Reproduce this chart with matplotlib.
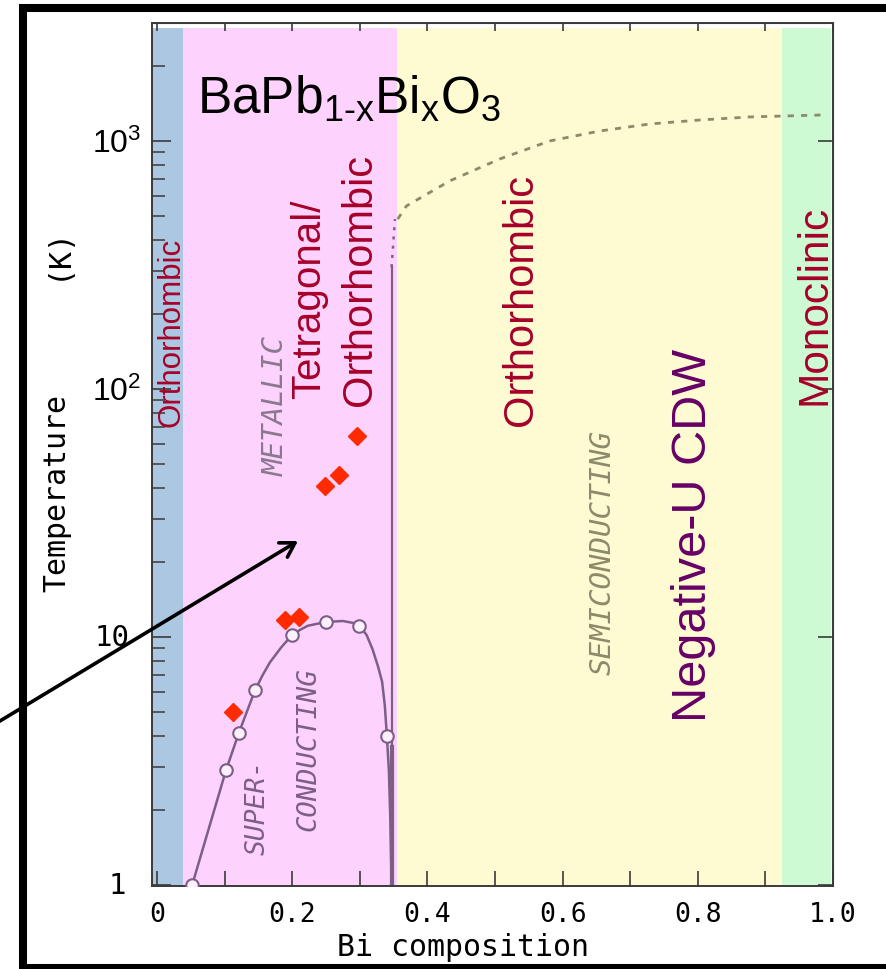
import matplotlib
matplotlib.use('Agg')
import matplotlib.pyplot as plt
import matplotlib.transforms as mtransforms
from matplotlib.patches import FancyArrowPatch
from matplotlib.lines import Line2D
from matplotlib.ticker import FixedLocator, NullLocator, LogLocator

# ---------------- data ----------------
tc_x = [0.052, 0.102, 0.121, 0.145, 0.200, 0.250, 0.299, 0.340]
tc_T = [1.0, 2.9, 4.1, 6.1, 10.2, 11.5, 11.1, 4.0]

dome_x = [0.052, 0.102, 0.121, 0.145, 0.156, 0.167, 0.184, 0.200, 0.212, 0.223,
          0.250, 0.275, 0.290, 0.299, 0.310, 0.319, 0.327, 0.333, 0.337,
          0.340, 0.343, 0.345, 0.347]
dome_T = [1.0, 2.9, 4.1, 6.1, 7.0, 7.9, 9.1, 10.2, 10.7, 11.1,
          11.5, 11.6, 11.4, 11.1, 10.2, 8.9, 7.6, 6.6, 5.3,
          4.0, 2.9, 1.9, 1.0]

red_x = [0.112, 0.189, 0.210, 0.248, 0.269, 0.296]
red_T = [5.0, 11.7, 12.0, 40.6, 45.0, 64.6]

cdw_x = [0.356, 0.369, 0.433, 0.507, 0.581, 0.655, 0.729, 0.803, 0.877, 0.983]
cdw_T = [484, 547, 690, 846, 1000, 1097, 1171, 1215, 1250, 1273]

boundary_x = [0.347, 0.347]
boundary_T = [1.0, 310]
boundary_thick_T = [1.0, 3.6]
dotted_x = [0.347, 0.352]
dotted_T = [310, 484]

phase_edges = [-0.0074, 0.038, 0.355, 0.924, 0.997]
phase_colors = ['#abc7e2', '#fdd3fd', '#fefbd3', '#cdf9d3']

xticks = [0, 0.2, 0.4, 0.6, 0.8, 1.0]
xtick_labels = ['0', '0.2', '0.4', '0.6', '0.8', '1.0']
xminor = [0.1, 0.3, 0.5, 0.7, 0.9]
yticks = [1, 10, 100, 1000]
ytick_labels = ['1', '10', '$10^2$', '$10^3$']

# ---------------- figure ----------------
W, H = 887, 970
plt.rcParams['font.family'] = ['Liberation Sans', 'DejaVu Sans']
plt.rcParams['mathtext.fontset'] = 'custom'
plt.rcParams['mathtext.rm'] = 'Liberation Sans'
plt.rcParams['mathtext.it'] = 'Liberation Sans'
plt.rcParams['mathtext.default'] = 'regular'

fig = plt.figure(figsize=(W / 100, H / 100), dpi=100)
ax = fig.add_axes([152 / W, 1 - 887 / H, (833 - 152) / W, (887 - 24) / H])
ax.set_yscale('log')
ax.set_xlim(-0.0074, 0.999)
ax.set_ylim(0.991, 2990)

for i, c in enumerate(phase_colors):
    ax.axvspan(phase_edges[i], phase_edges[i + 1], ymin=0, ymax=0.994,
               color=c, lw=0, zorder=0)

line_col = '#7d5e87'
ax.plot(dome_x, dome_T, color=line_col, lw=1.8, zorder=2)
ax.plot(boundary_x, boundary_T, color=line_col, lw=1.6, zorder=2)
ax.plot(boundary_x, boundary_thick_T, color=line_col, lw=3.0, zorder=2)
ax.plot(dotted_x, dotted_T, color=line_col, lw=1.8, ls=(0, (1.2, 2.5)), zorder=2)
ax.plot(cdw_x, cdw_T, color='#8b8b6a', lw=2.0, ls=(0, (2.2, 2.6)), zorder=2)
ax.plot(tc_x, tc_T, ls='none', marker='o', ms=9, mfc='#fdf0fd',
        mec=line_col, mew=1.5, zorder=3)
ax.plot(red_x, red_T, ls='none', marker='D', ms=9, color='#ff2a00', zorder=4)

# ticks
spine_col = '#3a3a3a'
mono = 'DejaVu Sans Mono'
for s in ax.spines.values():
    s.set_color(spine_col)
    s.set_linewidth(1.4)
ax.set_xticks(xticks, xtick_labels)
ax.xaxis.set_minor_locator(FixedLocator(xminor))
ax.tick_params(axis='x', which='both', direction='in', length=11, width=1.2,
               color=spine_col, pad=11, labelsize=19)
for lbl in ax.get_xticklabels():
    lbl.set_fontfamily(mono)

ax.set_yticks(yticks)
ax.set_yticklabels([])
ax.yaxis.set_minor_locator(LogLocator(base=10, subs=[2, 3, 4, 5, 6, 7, 8, 9]))
ax.tick_params(axis='y', which='major', direction='in', length=14, width=1.2,
               color=spine_col)
ax.tick_params(axis='y', which='minor', direction='in', length=9, width=1.1,
               color=spine_col)

# y tick labels as texts at the tick values (offsets in pixels from the spine)
ylab_style = [
    dict(dx=-26, dy=0, va='center', family=mono, size=21),
    dict(dx=-22, dy=0, va='center', family=mono, size=21),
    dict(dx=-11, dy=-11, va='baseline', family='Liberation Sans', size=23),
    dict(dx=-11, dy=-11, va='baseline', family='Liberation Sans', size=23),
]
for val, lab, st in zip(yticks, ytick_labels, ylab_style):
    tr = mtransforms.offset_copy(ax.get_yaxis_transform(), fig=fig,
                                 x=st['dx'], y=st['dy'], units='dots')
    ax.text(0, val, lab, transform=tr, ha='right', va=st['va'],
            family=st['family'], fontsize=st['size'], color='black',
            clip_on=False)

secx = ax.secondary_xaxis('top')
secx.set_xticks(xticks + xminor)
secx.set_xticklabels([])
secx.tick_params(direction='in', length=6, width=1.2, color=spine_col)
secx.spines['top'].set_color(spine_col)

secy = ax.secondary_yaxis('right')
secy.set_yticks(yticks)
secy.set_yticklabels([])
secy.yaxis.set_minor_locator(NullLocator())
secy.tick_params(direction='in', length=11, width=1.2, color=spine_col)
secy.spines['right'].set_color(spine_col)


def ftext(px, py, s, **kw):
    return fig.text(px / W, 1 - py / H, s, **kw)


red = '#a60029'
# title
ftext(197, 113, r'BaPb$_{1\text{-}x}$Bi$_{x}$O$_{3}$', fontsize=37,
      ha='left', va='baseline', color='black')
# phase labels
ftext(172, 332, 'Orthorhombic', rotation=90, fontsize=22.5, color=red,
      ha='center', va='center')
ftext(309, 299, 'Tetragonal/', rotation=90, fontsize=29, color=red,
      ha='center', va='center')
ftext(360, 280, 'Orthorhombic', rotation=90, fontsize=30, color=red,
      ha='center', va='center')
ftext(521, 300, 'Orthorhombic', rotation=90, fontsize=30, color=red,
      ha='center', va='center')
ftext(815, 305, 'Monoclinic', rotation=90, fontsize=30.5, color=red,
      ha='center', va='center')
ftext(694, 535, 'Negative-U CDW', rotation=90, fontsize=35, color='#660066',
      ha='center', va='center')

ftext(276, 406, 'METALLIC', rotation=90, fontsize=21, color='#8a7890',
      family=mono, style='oblique', ha='center', va='center')
ftext(603, 553, 'SEMICONDUCTING', rotation=90, fontsize=21, color='#8b8b6b',
      family=mono, style='oblique', ha='center', va='center')
ftext(258, 807, 'SUPER-', rotation=90, fontsize=19, color='#7d5e87',
      family=mono, style='oblique', ha='center', va='center')
ftext(308, 749, 'CONDUCTING', rotation=90, fontsize=19.5, color='#7d5e87',
      family=mono, style='oblique', ha='center', va='center')

# axis labels
ftext(57, 493, 'Temperature', rotation=90, fontsize=21.5, family=mono,
      ha='center', va='center', color='black')
ftext(57, 253, '(K)', rotation=90, fontsize=21.5, family=mono,
      ha='center', va='center', color='black')
ftext(463, 948, 'Bi composition', fontsize=21.5, family=mono,
      ha='center', va='center', color='black')

# arrow
arrow = FancyArrowPatch((-10 / W, 1 - 728 / H), (298 / W, 1 - 542 / H),
                        transform=fig.transFigure,
                        arrowstyle='->,head_length=10,head_width=6',
                        lw=2.6, color='black', shrinkA=0, shrinkB=0)
fig.add_artist(arrow)

# outer black frame (left, top, bottom edges; top/bottom run off the right edge)
fx0, fy_top, fy_bot = 23, 9, 968.5
fx1 = W + 5
for xs, ys in [((fx0, fx0), (fy_top - 4, fy_bot + 4)),
               ((fx0 - 4, fx1), (fy_top, fy_top)),
               ((fx0 - 4, fx1), (fy_bot, fy_bot))]:
    fig.add_artist(Line2D([x / W for x in xs], [1 - y / H for y in ys],
                          transform=fig.transFigure, color='black', lw=5.8,
                          solid_capstyle='butt'))

fig.savefig('out.png', dpi=100)
